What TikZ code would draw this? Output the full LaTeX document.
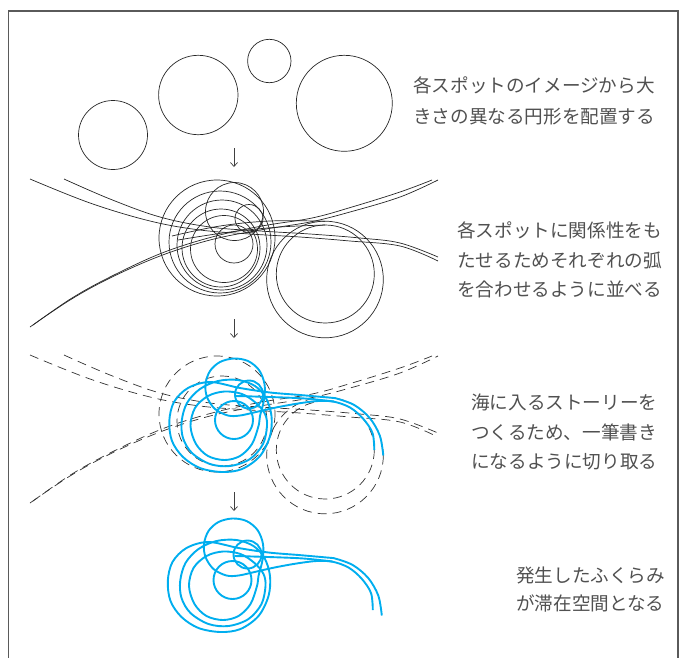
\documentclass[tikz,border=0pt]{standalone}
\usepackage{fontspec}
\newfontfamily\jpfont{Noto Sans CJK JP}
\usetikzlibrary{arrows.meta}
\definecolor{skyblue}{RGB}{0,174,239}
\definecolor{txtgray}{RGB}{80,80,80}
\definecolor{framegray}{RGB}{90,90,90}
\tikzset{
  thinline/.style={draw=black!85, line width=0.7pt},
  dashline/.style={draw=black!80, line width=0.7pt, dash pattern=on 9pt off 6pt},
  blueline/.style={draw=skyblue, line width=1.9pt},
  txt/.style={font=\jpfont\fontsize{18.6}{20}\selectfont, text=txtgray, inner sep=0pt, anchor=west},
  arr/.style={draw=black!75, line width=0.7pt, -{Straight Barb[length=4pt,width=7pt]}},
}
% ---- geometry of the arranged figure (stage-2 coordinates) ----
\newcommand\XArcs[1]{%
  \draw[#1] plot[smooth,tension=0.6] coordinates {(30,179) (90,203) (150,221) (200,230) (250,234) (300,237) (350,241) (400,246) (438,261)};
  \draw[#1] plot[smooth,tension=0.6] coordinates {(64,179) (110,199) (160,217) (210,227) (260,231) (310,234) (360,238) (400,243) (438,257)};
  \draw[#1] plot[smooth,tension=0.6] coordinates {(30,327) (70,300) (110,278) (160,256) (210,240) (260,230) (310,222) (350,212) (400,197) (438,180)};
  \draw[#1] plot[smooth,tension=0.6] coordinates {(33,325) (72,298) (112,276) (162,253) (212,237) (262,226) (312,218) (352,207) (400,192) (432,180)};
}
\newcommand\BigCircles[1]{%
  \draw[#1] (217,238) circle[radius=58];
  \draw[#1] (220,242) circle[radius=51];
  \draw[#1] (222,245) circle[radius=45];
  \draw[#1] (221,248) circle[radius=39];
  \draw[#1] (224,249) circle[radius=33.5];
  \draw[#1] (234.5,211.5) circle[radius=29];
  \draw[#1] (249,218.5) circle[radius=14];
  \draw[#1] (234,244) circle[radius=19];
}
\newcommand\RightCircles[1]{%
  \draw[#1] (325,279.5) circle[radius=58.3];
  \draw[#1] (325.3,274) circle[radius=49];
}
\newcommand\LensLines[1]{%
  \draw[#1] plot[smooth,tension=0.6] coordinates {(172,236) (220,226) (270,221) (325,221.2)};
  \draw[#1] plot[smooth,tension=0.6] coordinates {(178,240) (230,232) (280,227) (325,225)};
}
\newcommand\BluePath{%
  \draw[blueline] plot[smooth,tension=0.55] coordinates {
    (374.3,274) (372.5,257) (363,242.5) (350,231.5) (334,225.7) (318,225) (298,227.5)
    (276,231.5) (256,236) (240,239.5) (228,239.5) (215,233) (207,221) (205.5,208)
    (210,195) (220,186) (234,182.5) (248,185) (259,194) (264.5,208) (264,224) (260,240)
    (258.5,250) (252,268) (240,280) (224.5,284) (208,280) (196,268) (190.5,250) (195,232)
    (208,220) (224.5,215.5) (242,218) (256,227) (265,238) (267,250) (263,268) (250,283)
    (230,290) (210,288) (192,277) (183,262) (181.7,245) (187,227) (200,213) (218,205)
    (238,204) (255,210) (266,222) (271.5,240) (270,260) (260,280) (242,293) (222,296)
    (200,292) (183,281) (172,265) (169.3,245) (174,226) (188,212) (210,206) (240,212)
    (270,216.5) (300,219) (325,221.2) (335.1,222.1) (354.2,229) (369.7,242) (379.8,259.6)
    (383.3,279.5)};
  \draw[blueline] plot[smooth,tension=0.6] coordinates {(236,220) (270,221) (305,222.5) (334,225.5)};
  \draw[blueline] (249,218.5) circle[radius=14];
  \draw[blueline] (234,244) circle[radius=19];
}
\begin{document}
\begin{tikzpicture}[x=1pt,y=-1pt]
\useasboundingbox (0,0) rectangle (685,657);
% frame
\draw[draw=framegray, line width=1.2pt] (8.5,670) -- (8.5,11) -- (678,11) -- (678,670);
% ---- stage 1 ----
\draw[thinline] (113,135) circle[radius=34.5];
\draw[thinline] (198.3,95) circle[radius=39.7];
\draw[thinline] (269.3,61) circle[radius=21.7];
\draw[thinline] (344.3,103.3) circle[radius=48];
\node[txt] (t1a) at (413,85) {各スポットのイメージから大};
\node[txt] (t1b) at (413,116.5) {きさの異なる円形を配置する};
\coordinate (a1s) at (234,148); \coordinate (a1e) at (234,167);
\draw[arr] (a1s) -- (a1e);
% ---- stage 2 ----
\XArcs{thinline}
\BigCircles{thinline}
\RightCircles{thinline}
\LensLines{thinline}
\node[txt] (t2a) at (457,230) {各スポットに関係性をも};
\node[txt] (t2b) at (457,260) {たせるためそれぞれの弧};
\node[txt] (t2c) at (457,289) {を合わせるように並べる};
\coordinate (a2s) at (234,319); \coordinate (a2e) at (234,338);
\draw[arr] (a2s) -- (a2e);
% ---- stage 3 ----
\begin{scope}[shift={(0,176)}]
  \XArcs{dashline}
  \draw[dashline] (217,238) circle[radius=58];
  \draw[dashline] (222,245) circle[radius=45];
  \RightCircles{dashline}
  \BluePath
\end{scope}
\node[txt] (t3a) at (471,402) {海に入るストーリーを};
\node[txt] (t3b) at (471,432) {つくるため、一筆書き};
\node[txt] (t3c) at (471,462) {になるように切り取る};
\coordinate (a3s) at (234,492); \coordinate (a3e) at (234,511);
\draw[arr] (a3s) -- (a3e);
% ---- stage 4 ----
\begin{scope}[shift={(-1.5,336)}]
  \BluePath
\end{scope}
\node[txt] (t4a) at (516,575) {発生したふくらみ};
\node[txt] (t4b) at (516,603) {が滞在空間となる};
\end{tikzpicture}
\end{document}
